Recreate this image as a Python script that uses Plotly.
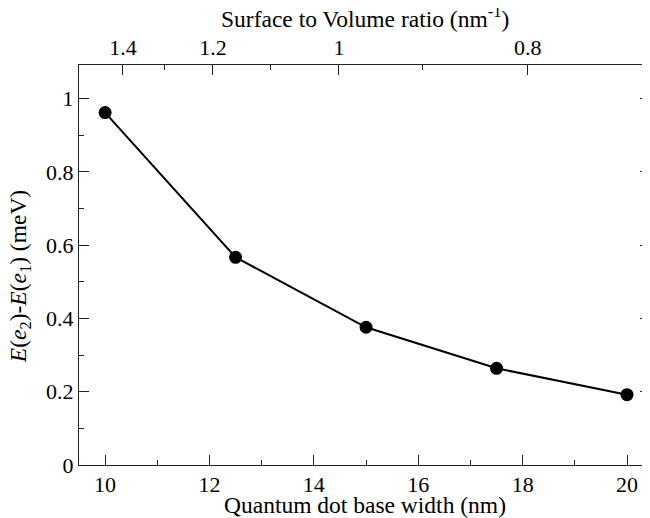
import plotly.graph_objects as go

# quantum dot base width (nm) and level splitting (meV)
widths = [10, 12.5, 15, 17.5, 20]
delta_e = [0.962, 0.567, 0.376, 0.264, 0.192]

# top axis: surface-to-volume ratio, S/V = SV_CONST / width
SV_CONST = 14.48
sv_major = [1.4, 1.2, 1.0, 0.8]
sv_labels = ["1.4", "1.2", "1", "0.8"]
sv_minor = [1.3, 1.1, 0.9]

FONT = "Liberation Serif"
AX = "#222"

fig = go.Figure()
fig.add_trace(go.Scatter(
    x=widths, y=delta_e, mode="lines+markers",
    line=dict(color="black", width=2),
    marker=dict(color="black", size=13),
    showlegend=False,
))
# empty helper trace so the top axis is drawn
fig.add_trace(go.Scatter(x=[], y=[], xaxis="x2", showlegend=False))

common = dict(
    ticks="inside", ticklen=10, tickcolor=AX, tickwidth=1,
    showline=True, linecolor=AX, linewidth=1, showgrid=False, zeroline=False,
    automargin=False, tickfont=dict(family=FONT, size=22, color="black"),
)
xr = [9.5, 20.44]
# page body has an 8px margin, so the figure is 8px smaller on each axis
fig.update_layout(
    width=642, height=510,
    margin=dict(l=71, r=0, t=57, b=53),
    plot_bgcolor="white", paper_bgcolor="white",
    font=dict(family=FONT, size=22, color="black"),
    xaxis=dict(
        range=xr, tickvals=[10, 12, 14, 16, 18, 20],
        minor=dict(tickvals=[11, 13, 15, 17, 19], ticks="inside", ticklen=5, tickcolor=AX),
        **common,
    ),
    xaxis2=dict(
        overlaying="x", side="top", anchor="y", range=xr,
        tickvals=[SV_CONST / v for v in sv_major], ticktext=sv_labels,
        minor=dict(tickvals=[SV_CONST / v for v in sv_minor], ticks="inside", ticklen=5, tickcolor=AX),
        **common,
    ),
    yaxis=dict(
        range=[0, 1.092], tickvals=[0, 0.2, 0.4, 0.6, 0.8, 1],
        ticktext=["0", "0.2", "0.4", "0.6", "0.8", "1"],
        minor=dict(tickvals=[0.1, 0.3, 0.5, 0.7, 0.9], ticks="inside", ticklen=5, tickcolor=AX),
        mirror="ticks",
        **common,
    ),
)

tfont = dict(family=FONT, size=23.5, color="black")
fig.add_annotation(text="Quantum dot base width (nm)", xref="paper", yref="paper",
                   x=0.5, y=-0.1, xanchor="center", yanchor="middle",
                   showarrow=False, font=tfont)
fig.add_annotation(text="Surface to Volume ratio (nm<sup>-1</sup>)", xref="paper", yref="paper",
                   x=0.5, y=1.12, xanchor="center", yanchor="middle",
                   showarrow=False, font=tfont)
fig.add_annotation(text="<i>E</i>(<i>e</i><sub>2</sub>)-<i>E</i>(<i>e</i><sub>1</sub>) (meV)",
                   xref="paper", yref="paper", x=-0.103, y=0.47,
                   xanchor="center", yanchor="middle", textangle=-90,
                   showarrow=False, font=tfont)

fig.write_html("out.html")
